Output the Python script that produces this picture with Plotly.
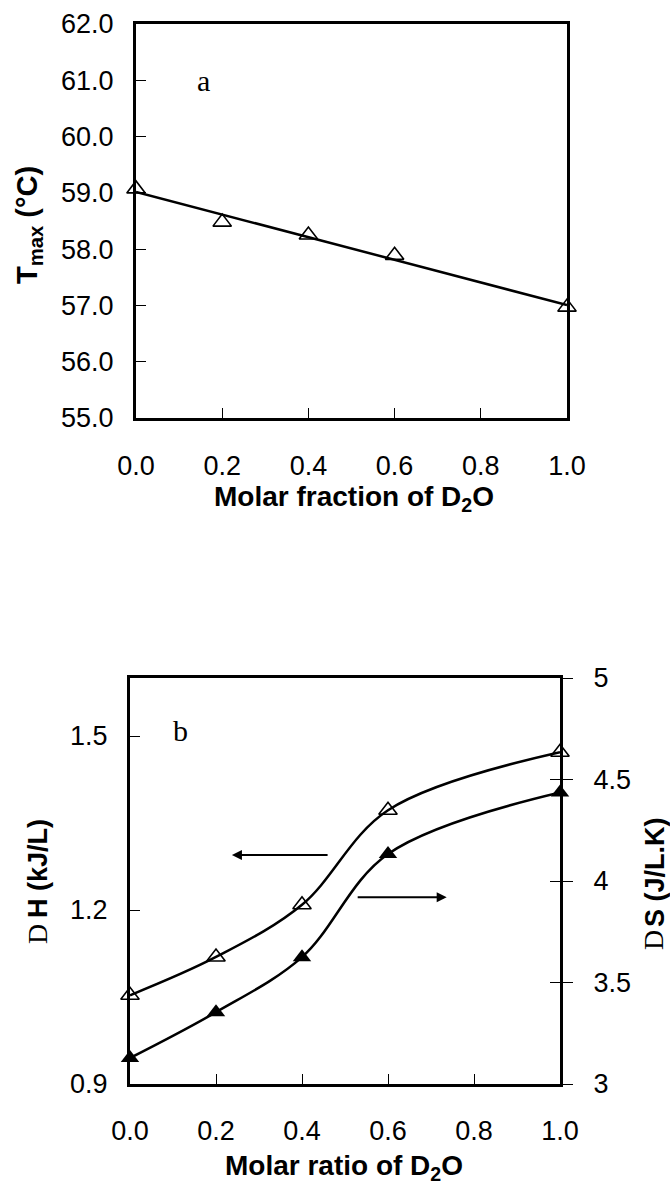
import numpy as np
import plotly.graph_objects as go

# ---------------- data ----------------
x_frac = [0.0, 0.2, 0.4, 0.6, 1.0]
t_max = [59.07, 58.48, 58.25, 57.89, 56.97]

x_ratio = [0.0, 0.2, 0.4, 0.6, 1.0]
delta_h = [1.053, 1.119, 1.209, 1.372, 1.472]
delta_s = [3.128, 3.354, 3.625, 4.133, 4.436]

x_ticks = [0.0, 0.2, 0.4, 0.6, 0.8, 1.0]
t_ticks = [55, 56, 57, 58, 59, 60, 61, 62]
h_ticks = [0.9, 1.2, 1.5]
s_ticks = [3, 3.5, 4, 4.5, 5]

SANS = "Liberation Sans, Arial, sans-serif"
SERIF = "Liberation Serif, Times New Roman, serif"
W, H = 670, 1188
TICK_SIZE = 27
MS = 16

# linear trend line for panel a
slope, intercept = np.polyfit(x_frac, t_max, 1)
trend_x = [min(x_frac), max(x_frac)]
trend_y = [intercept + slope * v for v in trend_x]

fig = go.Figure()

fig.add_trace(go.Scatter(x=trend_x, y=trend_y, mode="lines",
                         line=dict(color="black", width=2.5),
                         xaxis="x", yaxis="y", cliponaxis=False, hoverinfo="skip"))
fig.add_trace(go.Scatter(x=x_frac, y=t_max, mode="markers",
                         marker=dict(symbol="triangle-up-open", size=MS, color="black",
                                     line=dict(color="black", width=1.6)),
                         xaxis="x", yaxis="y", cliponaxis=False))

fig.add_trace(go.Scatter(x=x_ratio, y=delta_h, mode="lines+markers",
                         line=dict(color="black", width=2.5, shape="spline", smoothing=1),
                         marker=dict(symbol="triangle-up-open", size=MS, color="black",
                                     line=dict(color="black", width=1.6)),
                         xaxis="x2", yaxis="y2", cliponaxis=False))
fig.add_trace(go.Scatter(x=x_ratio, y=delta_s, mode="lines+markers",
                         line=dict(color="black", width=2.5, shape="spline", smoothing=1),
                         marker=dict(symbol="triangle-up", size=MS, color="black"),
                         xaxis="x2", yaxis="y3", cliponaxis=False))
# empty trace so the inner-tick overlay axis exists
fig.add_trace(go.Scatter(x=[], y=[], xaxis="x2", yaxis="y4", showlegend=False))

common = dict(showline=True, linecolor="black", linewidth=3, showgrid=False,
              zeroline=False, ticks="inside", ticklen=10, tickwidth=1,
              tickcolor="black", tickfont=dict(family=SANS, size=TICK_SIZE, color="black"),
              automargin=False)


def px_x(p):
    return p / W


def px_y(p):
    return 1 - p / H


fig.update_layout(
    width=W, height=H,
    margin=dict(l=0, r=0, t=0, b=0),
    paper_bgcolor="white", plot_bgcolor="white",
    showlegend=False,
    font=dict(family=SANS, size=TICK_SIZE, color="black"),
    xaxis=dict(**common, domain=[px_x(136), px_x(567)], anchor="y", range=[0, 1],
               tickvals=x_ticks, tickformat=".1f", mirror=True, ticklabelstandoff=22),
    yaxis=dict(**common, domain=[px_y(418), px_y(24)], anchor="x", range=[55, 62],
               tickvals=t_ticks, tickformat=".1f", mirror=True, ticklabelstandoff=14),
    xaxis2=dict(**common, domain=[px_x(130), px_x(560)], anchor="y2", range=[0, 1],
                tickvals=x_ticks, tickformat=".1f", mirror=True, ticklabelstandoff=21),
    yaxis2=dict(**common, domain=[px_y(1084), px_y(678)], anchor="x2", range=[0.9, 1.6],
                tickvals=h_ticks, tickformat=".1f", ticklabelstandoff=14),
    yaxis3=dict(**{**common, "ticks": "outside"}, overlaying="y2", side="right", anchor="x2",
                range=[3, 5], tickvals=s_ticks, ticklabelstandoff=15),
    yaxis4=dict(showline=False, showgrid=False, zeroline=False, ticks="inside", ticklen=10,
                tickwidth=1, tickcolor="black", showticklabels=False,
                overlaying="y2", side="right", anchor="x2", range=[3, 5], tickvals=s_ticks),
)

ann = []
# axis titles
ann.append(dict(text="<b>Molar fraction of D<sub>2</sub>O</b>", xref="paper", yref="paper",
                x=px_x(354), y=px_y(499), xanchor="center", yanchor="middle",
                showarrow=False, font=dict(family=SANS, size=28, color="black")))
ann.append(dict(text="<b>T<sub>max</sub> (°C)</b>", xref="paper", yref="paper",
                x=px_x(29), y=px_y(225), xanchor="center", yanchor="middle", textangle=-90,
                showarrow=False, font=dict(family=SANS, size=29, color="black")))
ann.append(dict(text="<b>Molar ratio of D<sub>2</sub>O</b>", xref="paper", yref="paper",
                x=px_x(344), y=px_y(1167), xanchor="center", yanchor="middle",
                showarrow=False, font=dict(family=SANS, size=28, color="black")))
# left title: serif "D" (symbol-font fallback) followed by bold sans "H (kJ/L)"
ann.append(dict(text="<b>H (kJ/L)</b>", xref="paper", yref="paper",
                x=px_x(38), y=px_y(869), xanchor="center", yanchor="middle", textangle=-90,
                showarrow=False, font=dict(family=SANS, size=27, color="black")))
ann.append(dict(text="D", xref="paper", yref="paper",
                x=px_x(37), y=px_y(934), xanchor="center", yanchor="middle", textangle=-90,
                showarrow=False, font=dict(family=SERIF, size=28, color="black")))
# right title
ann.append(dict(text="<b>S (J/L.K)</b>", xref="paper", yref="paper",
                x=px_x(655), y=px_y(872), xanchor="center", yanchor="middle", textangle=-90,
                showarrow=False, font=dict(family=SANS, size=27, color="black")))
ann.append(dict(text="D", xref="paper", yref="paper",
                x=px_x(654), y=px_y(940), xanchor="center", yanchor="middle", textangle=-90,
                showarrow=False, font=dict(family=SERIF, size=28, color="black")))
# panel letters
ann.append(dict(text="a", xref="paper", yref="paper", x=px_x(203), y=px_y(80),
                xanchor="center", yanchor="middle", showarrow=False,
                font=dict(family=SERIF, size=30, color="black")))
ann.append(dict(text="b", xref="paper", yref="paper", x=px_x(180), y=px_y(731),
                xanchor="center", yanchor="middle", showarrow=False,
                font=dict(family=SERIF, size=30, color="black")))
# arrows pointing to the relevant axes
ann.append(dict(text="", xref="x2", yref="y2", axref="x2", ayref="y2",
                x=0.237, y=1.295, ax=0.463, ay=1.295, showarrow=True,
                arrowhead=2, arrowsize=1, arrowwidth=2, arrowcolor="black",
                standoff=0, startstandoff=0))
ann.append(dict(text="", xref="x2", yref="y2", axref="x2", ayref="y2",
                x=0.7365, y=1.222, ax=0.526, ay=1.222, showarrow=True,
                arrowhead=2, arrowsize=1, arrowwidth=2, arrowcolor="black",
                standoff=0, startstandoff=0))
fig.update_layout(annotations=ann)

fig.write_html("out.html")
